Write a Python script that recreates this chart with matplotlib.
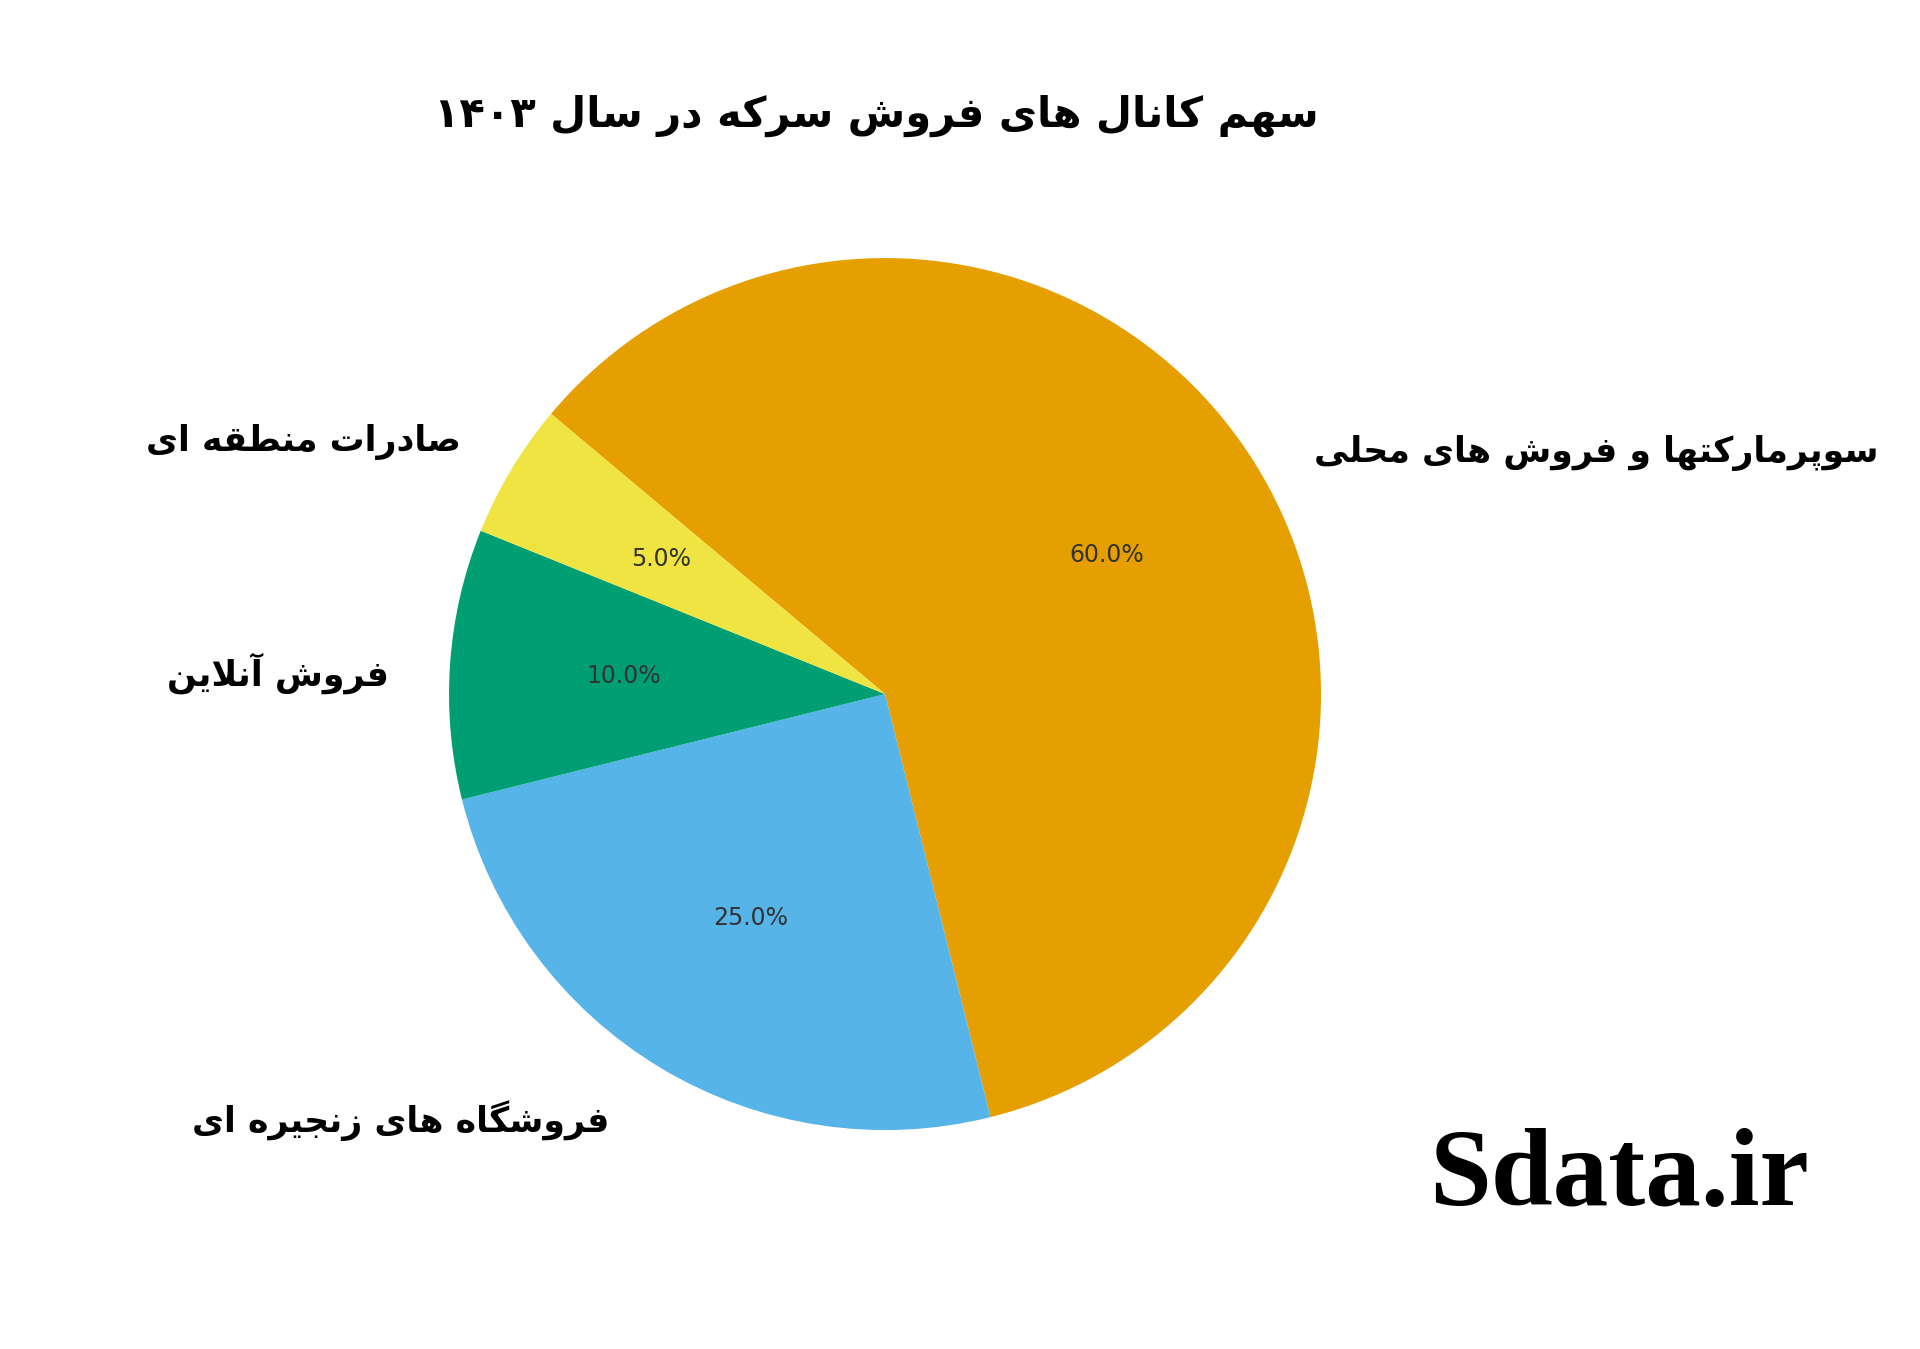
import re
import matplotlib
matplotlib.use('Agg')
import matplotlib.pyplot as plt

# sales channel shares for 1403
title = 'سهم کانال های فروش سرکه در سال ۱۴۰۳'
labels = ['سوپرمارکتها و فروش های محلی', 'فروشگاه های زنجیره ای', 'فروش آنلاین', 'صادرات منطقه ای']
values = [60, 25, 10, 5]
colors = ['#E69F00', '#56B4E9', '#009E73', '#F0E442']
watermark = 'Sdata.ir'

# presentation forms: isolated, final, initial, medial (None = right-joining only)
FORMS = {
    'ا': ('\uFE8D', '\uFE8E', None, None),
    'آ': ('\uFE81', '\uFE82', None, None),
    'د': ('\uFEA9', '\uFEAA', None, None),
    'ر': ('\uFEAD', '\uFEAE', None, None),
    'ز': ('\uFEAF', '\uFEB0', None, None),
    'و': ('\uFEED', '\uFEEE', None, None),
    'ب': ('\uFE8F', '\uFE90', '\uFE91', '\uFE92'),
    'پ': ('\uFB56', '\uFB57', '\uFB58', '\uFB59'),
    'ت': ('\uFE95', '\uFE96', '\uFE97', '\uFE98'),
    'ج': ('\uFE9D', '\uFE9E', '\uFE9F', '\uFEA0'),
    'ح': ('\uFEA1', '\uFEA2', '\uFEA3', '\uFEA4'),
    'س': ('\uFEB1', '\uFEB2', '\uFEB3', '\uFEB4'),
    'ش': ('\uFEB5', '\uFEB6', '\uFEB7', '\uFEB8'),
    'ص': ('\uFEB9', '\uFEBA', '\uFEBB', '\uFEBC'),
    'ط': ('\uFEC1', '\uFEC2', '\uFEC3', '\uFEC4'),
    'ف': ('\uFED1', '\uFED2', '\uFED3', '\uFED4'),
    'ق': ('\uFED5', '\uFED6', '\uFED7', '\uFED8'),
    'ک': ('\uFB8E', '\uFB8F', '\uFB90', '\uFB91'),
    'گ': ('\uFB92', '\uFB93', '\uFB94', '\uFB95'),
    'ل': ('\uFEDD', '\uFEDE', '\uFEDF', '\uFEE0'),
    'م': ('\uFEE1', '\uFEE2', '\uFEE3', '\uFEE4'),
    'ن': ('\uFEE5', '\uFEE6', '\uFEE7', '\uFEE8'),
    'ه': ('\uFEE9', '\uFEEA', '\uFEEB', '\uFEEC'),
    'ی': ('\uFBFC', '\uFBFD', '\uFBFE', '\uFBFF'),
}


def joins_forward(c):
    return c in FORMS and FORMS[c][2] is not None


def shape(text):
    # join letters and flip to visual order, digits stay left-to-right
    out = []
    i = 0
    n = len(text)
    while i < n:
        c = text[i]
        prev = text[i - 1] if i > 0 else None
        link_prev = joins_forward(prev)
        if c == 'ل' and i + 1 < n and text[i + 1] == 'ا':
            out.append('\uFEFC' if link_prev else '\uFEFB')
            i += 2
            continue
        if c not in FORMS:
            out.append(c)
            i += 1
            continue
        nxt = text[i + 1] if i + 1 < n else None
        link_next = joins_forward(c) and nxt in FORMS
        iso, fin, ini, med = FORMS[c]
        if link_prev and link_next:
            out.append(med)
        elif link_prev:
            out.append(fin)
        elif link_next:
            out.append(ini)
        else:
            out.append(iso)
        i += 1
    s = ''.join(reversed(out))
    return re.sub(r'[۰-۹0-9]+', lambda m: m.group()[::-1], s)


fig = plt.figure(figsize=(19.2, 13.49), dpi=100)
ax = fig.add_axes([0.1771, 0.0815, 0.5677, 0.808])

wedges, texts, autotexts = ax.pie(
    values, labels=[shape(l) for l in labels], colors=colors,
    autopct='%1.1f%%', startangle=140, counterclock=False,
    textprops={'fontsize': 25, 'fontweight': 'bold', 'family': ['DejaVu Sans']})
for t in autotexts:
    t.set_fontsize(17)
    t.set_fontweight('normal')
    t.set_color('#333333')

# nudge the outer labels a little
nudges = [(0.05, -0.03), (-0.065, -0.035), (-0.04, -0.028), (-0.03, 0.012)]
for t, (dx, dy) in zip(texts, nudges):
    x, y = t.get_position()
    t.set_position((x + dx, y + dy))
ax.set_aspect('equal')

fig.text(876 / 1920, 1 - 116 / 1349, shape(title), ha='center', va='center',
         fontsize=30, fontweight='bold', family=['DejaVu Sans'])
fig.text(1619 / 1920, 1 - 1178 / 1349, watermark, ha='center', va='center',
         fontsize=80, fontweight='bold', family=['Liberation Serif'])

fig.savefig('out.png', dpi=100)
